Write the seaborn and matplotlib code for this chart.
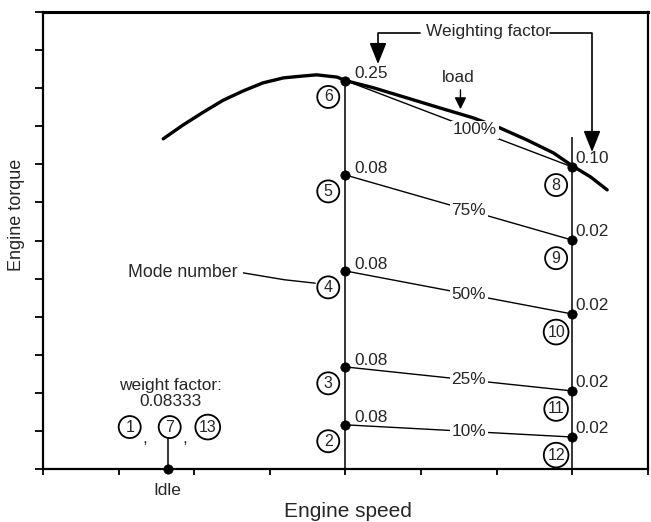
import numpy as np
import pandas as pd
import matplotlib
matplotlib.use('Agg')
import matplotlib.pyplot as plt
import seaborn as sns

# ---------------- data ----------------
speed_labels = ['Idle', 'Intermediate', 'Rated']
speed_pos = [1.65, 4.0, 7.0]

loads = ['100%', '75%', '50%', '25%', '10%']
inter_modes = [6, 5, 4, 3, 2]
inter_torque = [10.2, 7.72, 5.2, 2.68, 1.16]
inter_weight = ['0.25', '0.08', '0.08', '0.08', '0.08']
rated_modes = [8, 9, 10, 11, 12]
rated_torque = [7.93, 6.01, 4.07, 2.05, 0.84]
rated_weight = ['0.10', '0.02', '0.02', '0.02', '0.02']
idle_modes = [1, 7, 13]
idle_torque = 0.0
idle_weight = '0.08333'

curve_speed = [1.59, 1.85, 2.12, 2.38, 2.65, 2.91, 3.18, 3.44, 3.62, 3.89, 4.0,
               4.37, 4.82, 5.25, 5.69, 6.05, 6.40, 6.75, 7.0, 7.24, 7.46]
curve_torque = [8.67, 9.03, 9.37, 9.68, 9.93, 10.14, 10.27, 10.32, 10.35, 10.29, 10.2,
                10.01, 9.74, 9.48, 9.22, 8.95, 8.64, 8.30, 7.96, 7.67, 7.33]

# ---------------- style ----------------
sns.set_theme(style='white')
plt.rcParams['font.family'] = ['Liberation Sans', 'DejaVu Sans']
plt.rcParams['axes.edgecolor'] = 'black'
plt.rcParams['axes.linewidth'] = 1.5

fig = plt.figure(figsize=(6.51, 5.22), dpi=100)
ax = fig.add_axes([0.066, 0.1015, 0.9294, 0.8755])
ax.set_xlim(0, 8)
ax.set_ylim(0, 12)

FS = 12.4
CFS = 11.5

# full-load torque curve
curve_df = pd.DataFrame({'speed': curve_speed, 'torque': curve_torque})
sns.lineplot(data=curve_df, x='speed', y='torque', ax=ax, color='black',
             lw=2.4, sort=False, estimator=None, zorder=3)

# part-load lines between intermediate and rated
rows = []
for ld, ti, tr in zip(loads, inter_torque, rated_torque):
    rows.append({'load': ld, 'speed': speed_pos[1], 'torque': ti})
    rows.append({'load': ld, 'speed': speed_pos[2], 'torque': tr})
lines_df = pd.DataFrame(rows)
sns.lineplot(data=lines_df, x='speed', y='torque', units='load', estimator=None,
             ax=ax, color='black', lw=1.0, zorder=2, legend=False)

# vertical speed lines
ax.vlines(speed_pos[1], 0, inter_torque[0], color='black', lw=1.1, zorder=2)
ax.vlines(speed_pos[2], 0, 8.72, color='black', lw=1.1, zorder=2)
ax.vlines(speed_pos[0], 0, 1.1, color='black', lw=1.1, zorder=2)

# mode points
pts = pd.DataFrame({
    'speed': [speed_pos[1]] * 5 + [speed_pos[2]] * 5 + [speed_pos[0]],
    'torque': inter_torque + rated_torque + [idle_torque],
})
sns.scatterplot(data=pts, x='speed', y='torque', ax=ax, color='black', s=45,
                edgecolor='black', zorder=6, legend=False)
ax.collections[-1].set_clip_on(False)

circ = dict(boxstyle='circle,pad=0.22', fc='white', ec='black', lw=1.3)

# intermediate labels
for m, t, w in zip(inter_modes, inter_torque, inter_weight):
    ax.annotate(str(m), xy=(speed_pos[1], t), xytext=(-12.4, -11.8),
                textcoords='offset points', ha='center', va='center',
                fontsize=CFS, bbox=circ, zorder=7)
    ax.annotate(w, xy=(speed_pos[1], t), xytext=(6.5, 5),
                textcoords='offset points', ha='left', va='center',
                fontsize=FS, zorder=7)

# rated labels
for m, t, w in zip(rated_modes, rated_torque, rated_weight):
    ax.annotate(str(m), xy=(speed_pos[2], t), xytext=(-11.7, -13),
                textcoords='offset points', ha='center', va='center',
                fontsize=CFS, bbox=circ, zorder=7, annotation_clip=False)
    ax.annotate(w, xy=(speed_pos[2], t), xytext=(2.5, 6),
                textcoords='offset points', ha='left', va='center',
                fontsize=FS, zorder=7)

# load labels on lines
for i, (ld, ti, tr) in enumerate(zip(loads, inter_torque, rated_torque)):
    lx = 5.71 if i == 0 else 5.63
    ly = ti + (tr - ti) * (lx - speed_pos[1]) / (speed_pos[2] - speed_pos[1])
    ax.text(lx, ly, ld, ha='center', va='center', fontsize=FS, zorder=5,
            bbox=dict(boxstyle='square,pad=0.1', fc='white', ec='none'))

# idle modes
for m, dx in zip(idle_modes, [-27.4, 1.4, 28.8]):
    ax.annotate(str(m), xy=(speed_pos[0], idle_torque), xytext=(dx, 30.2),
                textcoords='offset points', ha='center', va='center',
                fontsize=CFS, bbox=circ, zorder=7)
for dx in [-16.5, 12.5]:
    ax.annotate(',', xy=(speed_pos[0], idle_torque), xytext=(dx, 22),
                textcoords='offset points', ha='center', va='center',
                fontsize=FS, zorder=7)
ax.text(1.68, 2.18, 'weight factor:', ha='center', va='center', fontsize=FS)
ax.text(1.68, 1.76, idle_weight, ha='center', va='center', fontsize=FS)

# Mode number callout
ax.text(2.57, 5.15, 'Mode number', ha='right', va='center', fontsize=12.8)
ax.plot([2.65, 3.19, 3.6], [5.15, 4.97, 4.88], color='black', lw=1.0)

# Weighting factor bracket
ax.text(5.89, 11.5, 'Weighting factor', ha='center', va='center', fontsize=FS)
ax.plot([4.99, 4.43, 4.43], [11.45, 11.45, 10.9], color='black', lw=1.2)
ax.plot([6.71, 7.26, 7.26], [11.45, 11.45, 8.6], color='black', lw=1.2)
ax.annotate('', xy=(4.43, 10.56), xytext=(4.43, 11.0),
            arrowprops=dict(arrowstyle='-|>,head_length=0.65,head_width=0.26',
                            mutation_scale=20, color='black', lw=1.2))
ax.annotate('', xy=(7.26, 8.25), xytext=(7.26, 8.7),
            arrowprops=dict(arrowstyle='-|>,head_length=0.65,head_width=0.26',
                            mutation_scale=20, color='black', lw=1.2))

# load arrow
ax.text(5.49, 10.29, 'load', ha='center', va='center', fontsize=FS)
ax.annotate('', xy=(5.52, 9.375), xytext=(5.52, 10.03),
            arrowprops=dict(arrowstyle='-|>,head_length=0.5,head_width=0.25',
                            mutation_scale=14, color='black', lw=1.0))

# axes, ticks
ax.set_xticks(range(0, 9))
ax.set_xticklabels([])
ax.set_xticks(speed_pos, minor=True)
ax.set_xticklabels(speed_labels, minor=True, fontsize=FS)
ax.tick_params(axis='x', which='minor', length=0, pad=10)
ax.tick_params(axis='x', which='major', direction='out', length=4, width=1.3,
               bottom=True, color='black')
ax.set_yticks(range(0, 13))
ax.set_yticklabels([])
ax.tick_params(axis='y', which='major', direction='out', length=6, width=1.3,
               left=True, color='black')
for s in ax.spines.values():
    s.set_linewidth(1.6)
    s.set_color('black')
ax.spines['top'].set_linewidth(2.2)

ax.set_xlabel('Engine speed', fontsize=15)
ax.xaxis.set_label_coords(0.504, -0.072)
ax.set_ylabel('Engine torque', fontsize=13)
ax.yaxis.set_label_coords(-0.043, 0.556)
ax.yaxis.label.set_va('center')
ax.xaxis.label.set_va('top')

fig.savefig('out.png', dpi=100)
